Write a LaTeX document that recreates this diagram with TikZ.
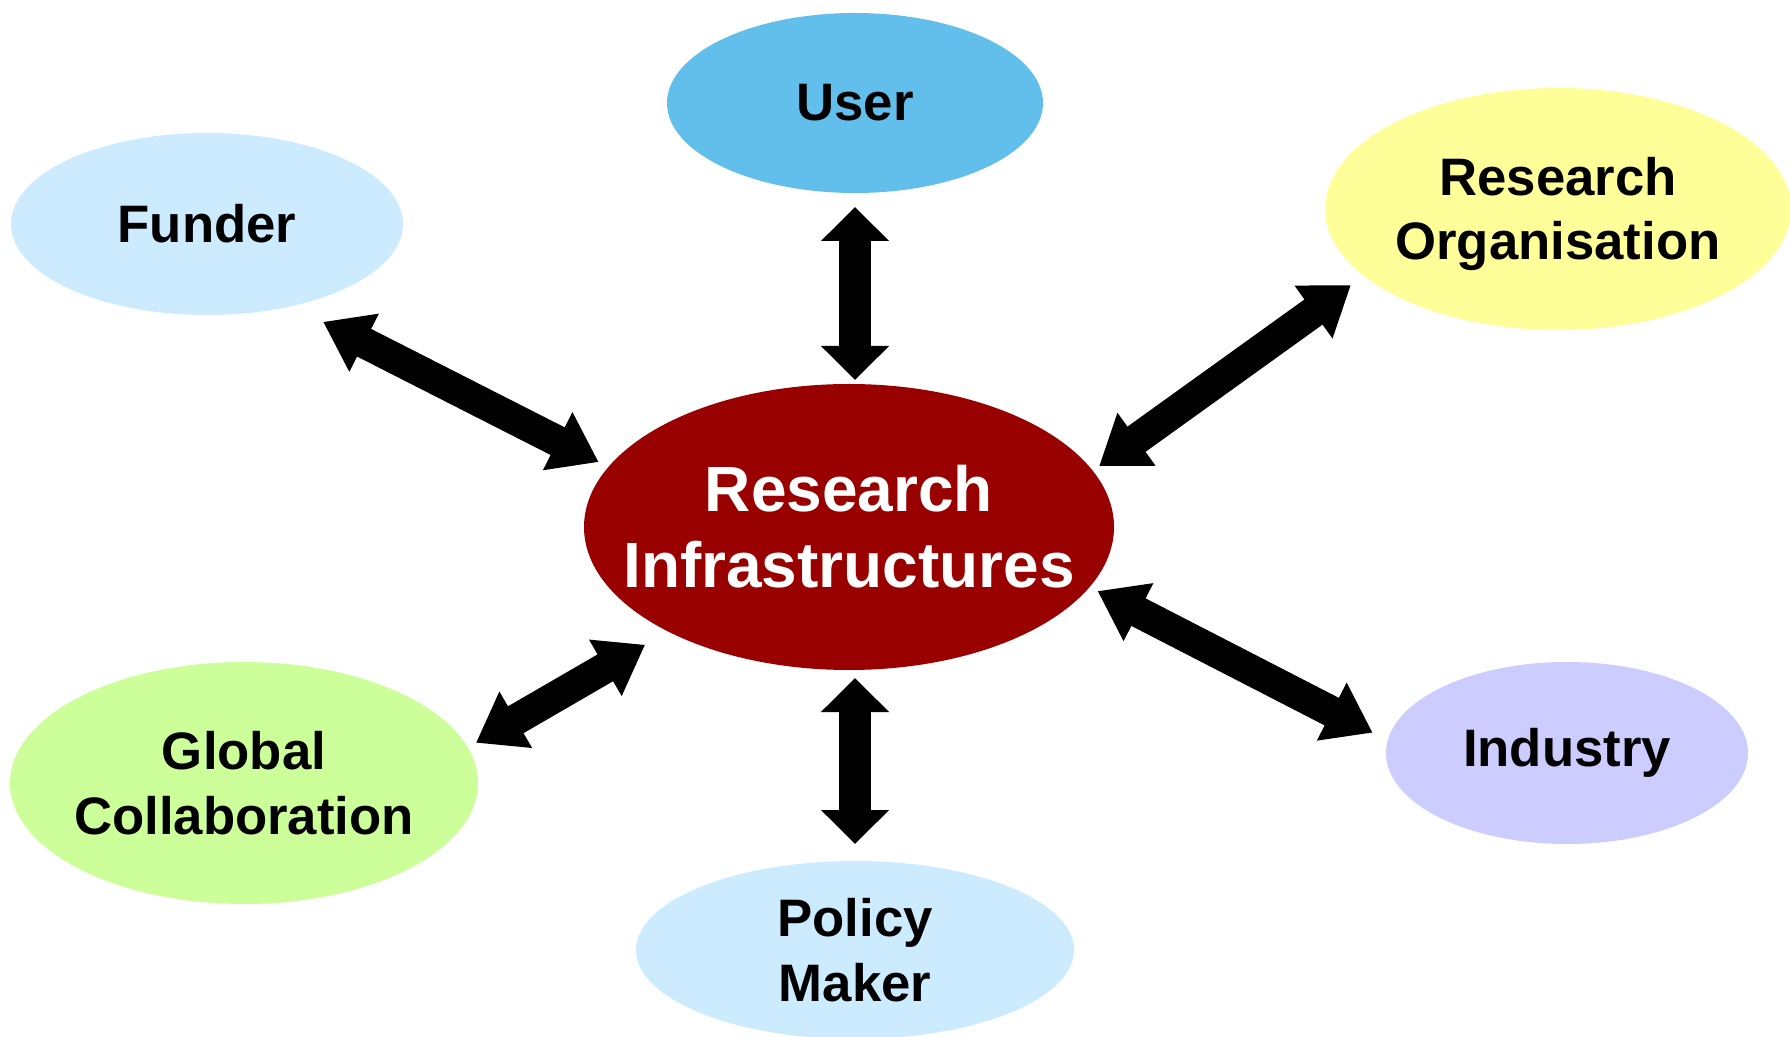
\documentclass[tikz,border=0pt]{standalone}
\usepackage{fontspec}
\setmainfont{Liberation Sans}
\usetikzlibrary{arrows.meta}
\usetikzlibrary{shapes.geometric}

\definecolor{userblue}{HTML}{62BFEC}
\definecolor{paleblue}{HTML}{CCEBFF}
\definecolor{paleyellow}{HTML}{FFFF99}
\definecolor{palegreen}{HTML}{CCFF99}
\definecolor{palelilac}{HTML}{CCCCFF}
\definecolor{darkred}{HTML}{990000}

\tikzset{
blob/.style={ellipse,inner sep=0pt,outer sep=0pt},
txt/.style={font=\fontsize{15}{18.4}\selectfont\bfseries,align=center,inner sep=0pt},
bigtxt/.style={font=\fontsize{18.2}{21.6}\selectfont\bfseries,align=center,text=white,inner sep=0pt},
link/.style={line width=3.2mm,>={Triangle[width=6.6mm,length=3.4mm]},<->},
slant/.style={line width=3.1mm,>={Triangle[width=6.2mm,length=4.6mm]},<->}
}

\begin{document}
\begin{tikzpicture}
\useasboundingbox (0,0) rectangle (17.9,10.36);
\node[blob,fill=darkred,minimum width=5.30cm,minimum height=2.86cm](RI) at (8.49,5.09){};
\node[blob,fill=userblue,minimum width=3.76cm,minimum height=1.80cm](User) at (8.55,9.33){};
\node[blob,fill=paleblue,minimum width=3.92cm,minimum height=1.82cm](Funder) at (2.07,8.12){};
\node[blob,fill=paleyellow,minimum width=4.66cm,minimum height=2.42cm](RO) at (15.58,8.27){};
\node[blob,fill=palegreen,minimum width=4.68cm,minimum height=2.42cm](Global) at (2.44,2.53){};
\node[blob,fill=paleblue,minimum width=4.38cm,minimum height=1.78cm](Policy) at (8.55,0.86){};
\node[blob,fill=palelilac,minimum width=3.62cm,minimum height=1.82cm](Industry) at (15.67,2.83){};

\node[bigtxt](RIT) at (RI){Research\\Infrastructures};
\node[txt](UserT) at (User){User};
\node[txt](FunderT) at (Funder){Funder};
\node[txt,yshift=-0.05cm](ROT) at (RO){Research\\Organisation};
\node[txt](GlobalT) at (Global){Global\\Collaboration};
\node[txt](PolicyT) at (Policy){Policy\\Maker};
\node[txt](IndustryT) at (Industry){Industry};

\path
(User.south) edge[link,shorten <=1.4mm,shorten >=0.4mm] (User.south |- RI.north)
(Policy.north) edge[link,shorten <=1.7mm,shorten >=0.8mm] (Policy.north |- RI.south)
(Funder.-44) edge[slant,shorten <=3.5mm,shorten >=1.1mm] (RI.166)
(RO.199.8) edge[slant,shorten <=1.6mm,shorten >=0.8mm] (RI.13.9)
(RI.-14.2) edge[slant,shorten <=0.9mm,shorten >=1.7mm] (Industry.176.1)
(RI.210.8) edge[slant,shorten <=2.65mm,shorten >=0.95mm] (Global.9);
\end{tikzpicture}
\end{document}
